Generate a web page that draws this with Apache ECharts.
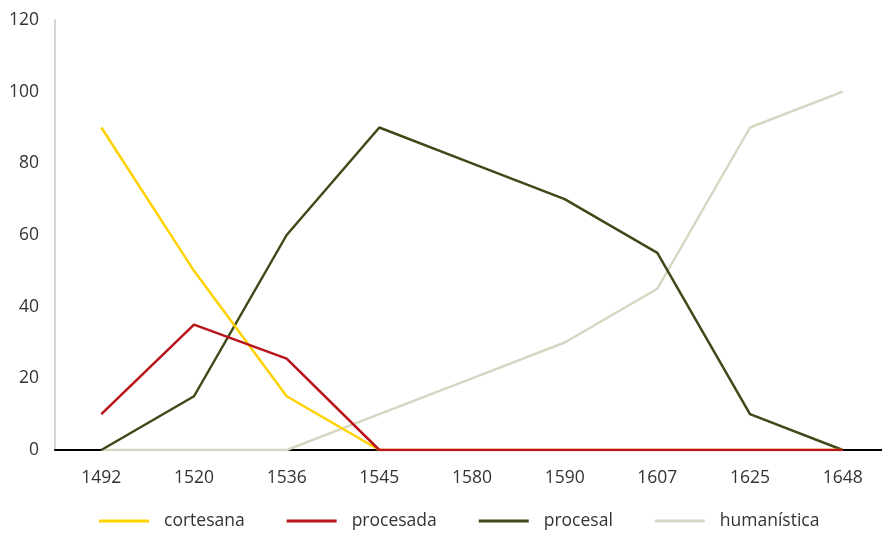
<!DOCTYPE html>
<html>
<head>
<meta charset="utf-8">
<script src="https://cdn.jsdelivr.net/npm/echarts@6/dist/echarts.min.js"></script>
<style>
  html, body { margin: 0; padding: 0; background: #fff; }
  #chart { width: 882px; height: 534px; }
</style>
</head>
<body>
<div id="chart"></div>
<script>
// years on the x axis
const years = ['1492', '1520', '1536', '1545', '1580', '1590', '1607', '1625', '1648'];

// share per script type
const cortesana = [90, 50, 15, 0, 0, 0, 0, 0, 0];
const procesada = [10, 35, 25.5, 0, 0, 0, 0, 0, 0];
const procesal = [0, 15, 60, 90, 80, 70, 55, 10, 0];
const humanistica = [0, 0, 0, 10, 20, 30, 45, 90, 100];

const font = '"Open Sans", sans-serif';

function lineSeries(name, data, color) {
  return {
    name: name,
    type: 'line',
    data: data,
    symbol: 'none',
    lineStyle: { color: color, width: 2.5 },
    itemStyle: { color: color }
  };
}

const chart = echarts.init(document.getElementById('chart'));
chart.setOption({
  animation: false,
  grid: { left: 55, right: -7, top: 20, bottom: 84, outerBoundsMode: 'none', containLabel: false },
  legend: {
    left: 94,
    bottom: -1,
    icon: 'rect',
    itemWidth: 50,
    itemHeight: 3,
    itemGap: 42,
    textStyle: { fontFamily: font, fontSize: 17.5, color: '#333', padding: [0, 0, 0, 10] },
    data: ['cortesana', 'procesada', 'procesal', 'humanística']
  },
  xAxis: {
    type: 'category',
    data: years,
    boundaryGap: true,
    axisLine: { lineStyle: { color: '#000', width: 2 } },
    axisTick: { show: false },
    axisLabel: { fontFamily: font, fontSize: 17.5, color: '#333', margin: 19 }
  },
  yAxis: {
    type: 'value',
    min: 0,
    max: 120,
    interval: 20,
    axisLine: { show: true, lineStyle: { color: '#d4d4d4', width: 2 } },
    axisTick: { show: false },
    splitLine: { show: false },
    axisLabel: { fontFamily: font, fontSize: 17.5, color: '#333', margin: 16 }
  },
  series: [
    lineSeries('humanística', humanistica, '#d6d7c2'),
    lineSeries('procesal', procesal, '#3e4a18'),
    lineSeries('cortesana', cortesana, '#ffd200'),
    lineSeries('procesada', procesada, '#b8141a')
  ]
});
</script>
</body>
</html>
